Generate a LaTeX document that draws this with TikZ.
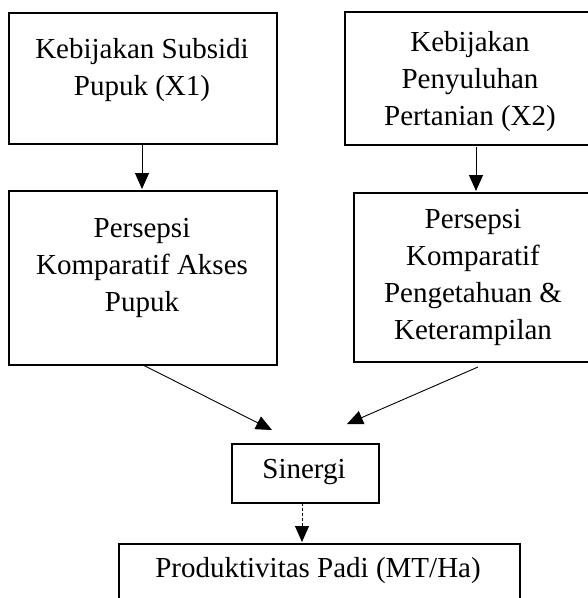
\documentclass[tikz,border=0pt]{standalone}
\usepackage{fontspec}
\setmainfont{Liberation Serif}
\usetikzlibrary{arrows.meta}
\tikzset{
  box/.style={draw, line width=1.8pt, inner sep=0pt, anchor=north west},
  txt/.style={align=center, inner sep=0pt, font=\fontsize{29}{37}\selectfont},
  conn/.style={line width=0.9pt, -{Triangle[length=16pt,width=14pt]}},
  dconn/.style={conn, dash pattern=on 3pt off 2pt}
}
\begin{document}
\begin{tikzpicture}[x=1pt,y=-1pt]
\clip (0,0) rectangle (588,598);
\fill[white] (0,0) rectangle (588,598);
% boxes
\node[box, minimum width=268pt, minimum height=131pt] (b1) at (8,12) {};
\node[box, minimum width=252pt, minimum height=133pt] (b2) at (344,11) {};
\node[box, minimum width=268pt, minimum height=174pt] (b3) at (8,190) {};
\node[box, minimum width=240pt, minimum height=169pt] (b4) at (353,192) {};
\node[box, minimum width=147pt, minimum height=59pt] (b5) at (231,443) {};
\node[box, minimum width=401pt, minimum height=80pt] (b6) at (118,543) {};
% texts
\node[txt] (t1) at (142,70) {Kebijakan Subsidi\\Pupuk (X1)};
\node[txt] (t2) at (470,82) {Kebijakan\\Penyuluhan\\Pertanian (X2)};
\node[txt] (t3) at (142,268) {Persepsi\\Komparatif Akses\\Pupuk};
\node[txt] (t4) at (473,277) {Persepsi\\Komparatif\\Pengetahuan \&\\Keterampilan};
\node[txt] (t5) at (304,472) {Sinergi};
\node[txt] (t6) at (318,571) {Produktivitas Padi (MT/Ha)};
% anchor coordinates
\coordinate (a1s) at (142,145);
\coordinate (a1e) at (142,189);
\coordinate (a2s) at (476,147);
\coordinate (a2e) at (476,191);
\coordinate (a3s) at (143,365);
\coordinate (a3e) at (272,430);
\coordinate (a4s) at (478,367);
\coordinate (a4e) at (347,424);
\coordinate (a5s) at (302,503);
\coordinate (a5e) at (302,542);
\draw[conn] (a1s) -- (a1e);
\draw[conn] (a2s) -- (a2e);
\draw[conn] (a3s) -- (a3e);
\draw[conn] (a4s) -- (a4e);
\draw[dconn] (a5s) -- (a5e);
\end{tikzpicture}
\end{document}
